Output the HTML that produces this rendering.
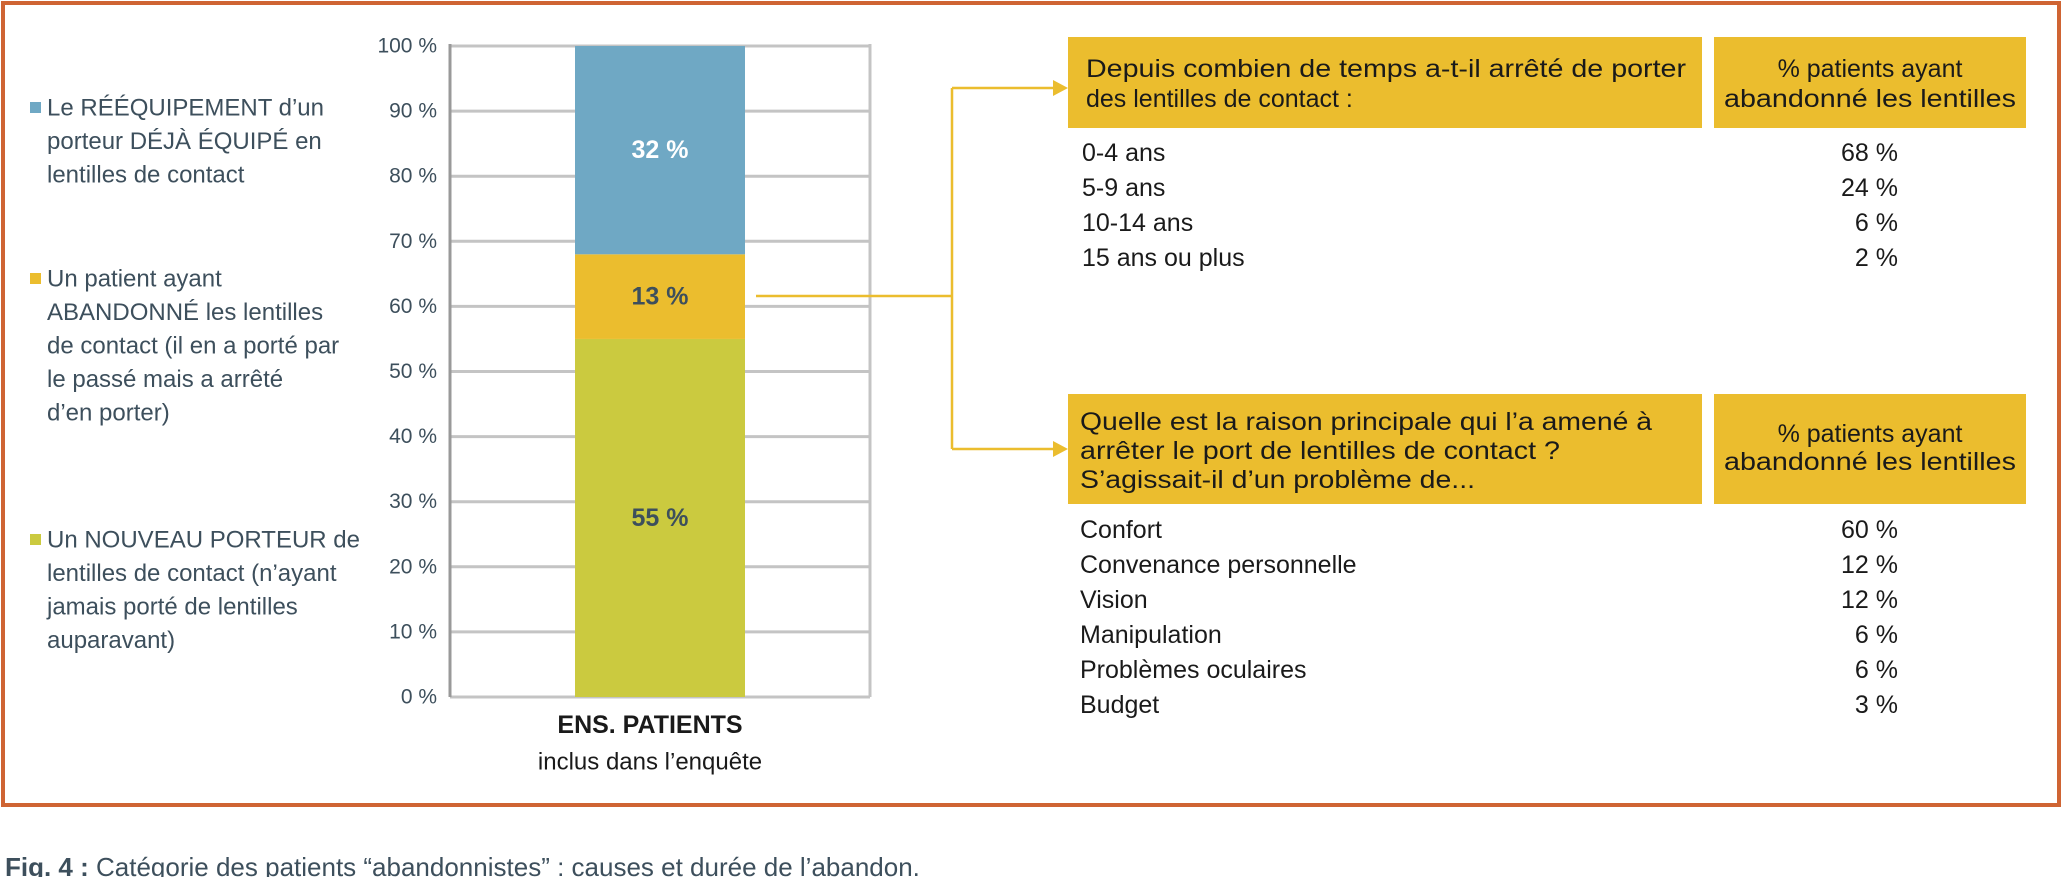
<!DOCTYPE html>
<html><head><meta charset="utf-8"><style>
html,body{margin:0;padding:0;background:#fff;}
svg{display:block;}
text{font-family:"Liberation Sans",sans-serif;}
</style></head><body>
<svg width="2067" height="877" viewBox="0 0 2067 877" xmlns="http://www.w3.org/2000/svg">
<rect x="3" y="3" width="2056" height="802" fill="none" stroke="#cf6433" stroke-width="4"/>
<g id="plot"></g>
<g id="legend"></g>
<g>
<polyline points="756,296 952,296" fill="none" stroke="#ebbd2e" stroke-width="2.5"/>
<polyline points="952,88 952,449" fill="none" stroke="#ebbd2e" stroke-width="2.5"/>
<polyline points="952,88 1055,88" fill="none" stroke="#ebbd2e" stroke-width="2.5"/>
<polygon points="1053,80 1068,88 1053,96" fill="#ebbd2e"/>
<polyline points="952,449 1055,449" fill="none" stroke="#ebbd2e" stroke-width="2.5"/>
<polygon points="1053,441 1068,449 1053,457" fill="#ebbd2e"/>
</g>
<g>
<rect x="1068" y="37" width="634" height="91" fill="#ebbd2e"/>
<rect x="1714" y="37" width="312" height="91" fill="#ebbd2e"/>
<text x="1086" y="69" font-size="25" fill="#1a1a1a" dominant-baseline="central" textLength="600" lengthAdjust="spacingAndGlyphs">Depuis combien de temps a-t-il arrêté de porter</text>
<text x="1086" y="99" font-size="25" fill="#1a1a1a" dominant-baseline="central">des lentilles de contact :</text>
<text x="1870" y="69" font-size="25" fill="#1a1a1a" dominant-baseline="central" text-anchor="middle">% patients ayant</text>
<text x="1870" y="99" font-size="25" fill="#1a1a1a" dominant-baseline="central" text-anchor="middle" textLength="292" lengthAdjust="spacingAndGlyphs">abandonné les lentilles</text>
<g id="t1"></g>
</g>
<g>
<rect x="1068" y="394" width="634" height="110" fill="#ebbd2e"/>
<rect x="1714" y="394" width="312" height="110" fill="#ebbd2e"/>
<text x="1080" y="422" font-size="25" fill="#1a1a1a" dominant-baseline="central" textLength="572" lengthAdjust="spacingAndGlyphs">Quelle est la raison principale qui l’a amené à</text>
<text x="1080" y="451" font-size="25" fill="#1a1a1a" dominant-baseline="central" textLength="480" lengthAdjust="spacingAndGlyphs">arrêter le port de lentilles de contact ?</text>
<text x="1080" y="480" font-size="25" fill="#1a1a1a" dominant-baseline="central" textLength="395" lengthAdjust="spacingAndGlyphs">S’agissait-il d’un problème de...</text>
<text x="1870" y="434" font-size="25" fill="#1a1a1a" dominant-baseline="central" text-anchor="middle">% patients ayant</text>
<text x="1870" y="462" font-size="25" fill="#1a1a1a" dominant-baseline="central" text-anchor="middle" textLength="292" lengthAdjust="spacingAndGlyphs">abandonné les lentilles</text>
<g id="t2"></g>
</g>
<text x="5" y="867" font-size="26" fill="#3d4f5c" dominant-baseline="central"><tspan font-weight="bold">Fig. 4 :</tspan> Catégorie des patients “abandonnistes” : causes et durée de l’abandon.</text>
</svg>
<script>
const NS="http://www.w3.org/2000/svg";
const categories=["ENS. PATIENTS"];
const seriesNames=["Le RÉÉQUIPEMENT","Un patient ayant ABANDONNÉ","Un NOUVEAU PORTEUR"];
const valNouveau=[55];
const valAbandon=[13];
const valReequip=[32];
const tickValues=[0,10,20,30,40,50,60,70,80,90,100];
const durationLabels=["0-4 ans","5-9 ans","10-14 ans","15 ans ou plus"];
const durationValues=[68,24,6,2];
const reasonLabels=["Confort","Convenance personnelle","Vision","Manipulation","Problèmes oculaires","Budget"];
const reasonValues=[60,12,12,6,6,3];

function mk(tag,attrs,parent,txt){const e=document.createElementNS(NS,tag);for(const k in attrs)e.setAttribute(k,attrs[k]);if(txt!==undefined)e.textContent=txt;parent.appendChild(e);return e;}
const y=v=>697-v*6.51;
const plot=document.getElementById('plot');
const X0=450,X1=870,BX=575,BW=170;
tickValues.forEach(t=>{
  const l=mk('line',{x1:X0,x2:X1,y1:y(t),y2:y(t),stroke:'#c4c4c4','stroke-width':3},plot);
  
  
  const tx=mk('text',{x:437,y:y(t),'font-size':21,fill:'#3d4f5c','text-anchor':'end','dominant-baseline':'central'},plot,t+' %');
  
  
});
const ax=mk('line',{x1:X0,x2:X0,y1:y(100)-2,y2:y(0),stroke:'#999','stroke-width':3},plot);


const rb=mk('line',{x1:X1,x2:X1,y1:y(100)-2,y2:y(0),stroke:'#c4c4c4','stroke-width':3},plot);


const segs=[[valNouveau,'#cbca3f','#3d4f5c','bar-nouveau-porteur'],[valAbandon,'#ebbd2e','#3d4f5c','bar-abandon'],[valReequip,'#6fa8c4','#ffffff','bar-reequipement']];
categories.forEach((c,i)=>{
  let base=0;
  segs.forEach(s=>{
    const v=s[0][i];
    const r=mk('rect',{x:BX,width:BW,y:y(base+v),height:y(base)-y(base+v),fill:s[1]},plot);
    
    
    const t=mk('text',{x:BX+BW/2,y:y(base+v/2),'font-size':25,'font-weight':'bold',fill:s[2],'text-anchor':'middle','dominant-baseline':'central'},plot,v+' %');
    
    
    base+=v;
  });
  const cl=mk('text',{x:BX+BW/2-10,y:725,'font-size':25,'font-weight':'bold',fill:'#1a1a1a','text-anchor':'middle','dominant-baseline':'central'},plot,c);
  
  
  const cs=mk('text',{x:BX+BW/2-10,y:762,'font-size':24,fill:'#1a1a1a','text-anchor':'middle','dominant-baseline':'central'},plot,'inclus dans l’enquête');
  
  
});
const legend=document.getElementById('legend');
const legItems=[
 ['#6fa8c4',108,['Le RÉÉQUIPEMENT d’un','porteur DÉJÀ ÉQUIPÉ en','lentilles de contact'],'legend-reequipement'],
 ['#ebbd2e',279,['Un patient ayant','ABANDONNÉ les lentilles','de contact (il en a porté par','le passé mais a arrêté','d’en porter)'],'legend-abandon'],
 ['#cbca3f',540,['Un NOUVEAU PORTEUR de','lentilles de contact (n’ayant','jamais porté de lentilles','auparavant)'],'legend-nouveau-porteur']];
legItems.forEach(it=>{
  const g=mk('g',{},legend);
  
  
  const sw=mk('rect',{x:30,y:it[1]-6,width:11,height:11,fill:it[0]},g);
  
  
  it[2].forEach((ln,j)=>{
    const t=mk('text',{x:47,y:it[1]+j*33.5,'font-size':24,fill:'#3d4f5c','dominant-baseline':'central'},g,ln);
    
    
  });
});
const t1=document.getElementById('t1');
durationLabels.forEach((l,i)=>{
  const yy=153+i*35;
  const a=mk('text',{x:1082,y:yy,'font-size':25,fill:'#1a1a1a','dominant-baseline':'central'},t1,l);
  
  
  const b=mk('text',{x:1898,y:yy,'font-size':25,fill:'#1a1a1a','text-anchor':'end','dominant-baseline':'central'},t1,durationValues[i]+' %');
  
  
});
const t2=document.getElementById('t2');
reasonLabels.forEach((l,i)=>{
  const yy=530+i*35;
  const a=mk('text',{x:1080,y:yy,'font-size':25,fill:'#1a1a1a','dominant-baseline':'central'},t2,l);
  
  
  const b=mk('text',{x:1898,y:yy,'font-size':25,fill:'#1a1a1a','text-anchor':'end','dominant-baseline':'central'},t2,reasonValues[i]+' %');
  
  
});
</script>
</body></html>
